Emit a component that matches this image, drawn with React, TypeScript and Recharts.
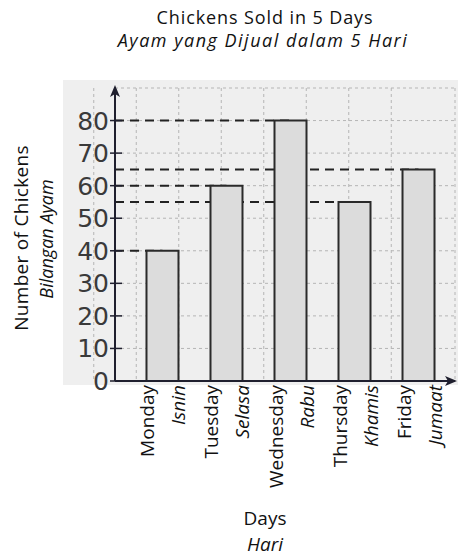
import React from 'react';
import { BarChart, Bar, XAxis, YAxis, CartesianGrid, ReferenceLine, ReferenceDot } from 'recharts';

const DAYS = ['Monday', 'Tuesday', 'Wednesday', 'Thursday', 'Friday'];
const HARI = ['Isnin', 'Selasa', 'Rabu', 'Khamis', 'Jumaat'];
const SOLD = [40, 60, 80, 55, 65];
const Y_TICKS = [0, 10, 20, 30, 40, 50, 60, 70, 80, 90];

const data = DAYS.map((day, i) => ({ idx: i, day, hari: HARI[i], sold: SOLD[i] }));

// numeric x axis so the dashed guides can start right at the y axis
const X_MIN = -0.742;
const X_MAX = 4.57;
const Y_MAX = 90;
// grid paper lines fall on the bar edges
const GRID_X = DAYS.flatMap((_, i) => [i - 0.25, i + 0.25]);

const INK = '#1f1f2e';
const FONT = '"Open Sans", "DejaVu Sans", sans-serif';

function DayTick({ x, y, payload }: any) {
  const i = payload.value;
  return (
    <g>
      <text
        x={x - 8}
        y={y + 4}
        transform={`rotate(-90 ${x - 8} ${y + 4})`}
        textAnchor="end"
        fontFamily={FONT}
        fontSize={19}
        fill="#111"
      >
        {DAYS[i]}
      </text>
      <text
        x={x + 23}
        y={y + 4}
        transform={`rotate(-90 ${x + 23} ${y + 4})`}
        textAnchor="end"
        fontFamily={FONT}
        fontStyle="italic"
        fontSize={19}
        fill="#111"
      >
        {HARI[i]}
      </text>
    </g>
  );
}

function CountTick({ x, y, payload }: any) {
  if (payload.value >= Y_MAX) return null;
  return (
    <g>
      <line x1={x - 5} x2={x + 7} y1={y} y2={y} stroke={INK} strokeWidth={1.5} />
      <text
        x={x - 6}
        y={y}
        dy={9}
        textAnchor="end"
        fontFamily='"DejaVu Sans", sans-serif'
        fontSize={25}
        fill="#3a3a3a"
      >
        {payload.value}
      </text>
    </g>
  );
}

const UpArrow = ({ cx, cy }: any) => (
  <path d={`M${cx},${cy - 3} l-5,12 l5,-3 l5,3 z`} fill={INK} />
);
const RightArrow = ({ cx, cy }: any) => (
  <path d={`M${cx + 2},${cy} l-12,-5 l3,5 l-3,5 z`} fill={INK} />
);

export default function App() {
  return (
    <div
      style={{
        position: 'absolute',
        left: 0,
        top: 0,
        width: 458,
        height: 557,
        background: '#fff',
        overflow: 'hidden'
      }}
    >
      {/* scanned paper tint */}
      <div
        style={{
          position: 'absolute',
          left: 63,
          top: 80,
          width: 395,
          height: 305,
          background: '#efefef'
        }}
      />

      <div style={{ position: 'absolute', left: 0, top: 0 }}>
        <BarChart
          width={458}
          height={557}
          data={data}
          margin={{ top: 88, right: 3, bottom: 0, left: 0 }}
        >
          <XAxis
            xAxisId="grid"
            type="number"
            domain={[X_MIN, X_MAX]}
            ticks={GRID_X}
            allowDataOverflow
            hide
          />
          <CartesianGrid
            xAxisId="grid"
            stroke="#b5b5b5"
            strokeDasharray="3 3"
          />
          <XAxis
            type="number"
            dataKey="idx"
            domain={[X_MIN, X_MAX]}
            ticks={[0, 1, 2, 3, 4]}
            interval={0}
            allowDataOverflow
            height={176}
            axisLine={{ stroke: INK, strokeWidth: 2 }}
            tickLine={false}
            tickSize={0}
            tickMargin={0}
            tick={<DayTick />}
          />
          <YAxis
            type="number"
            domain={[0, Y_MAX]}
            ticks={Y_TICKS}
            interval={0}
            allowDataOverflow
            width={115}
            axisLine={{ stroke: INK, strokeWidth: 2 }}
            tickLine={false}
            tickSize={0}
            tickMargin={0}
            tick={<CountTick />}
          />
          {data.map((d) => (
            <ReferenceLine
              key={d.day}
              segment={[
                { x: X_MIN, y: d.sold },
                { x: d.idx, y: d.sold }
              ]}
              stroke="#222"
              strokeWidth={2}
              strokeDasharray="9 6"
              ifOverflow="visible"
              zIndex={250}
            />
          ))}
          <Bar
            dataKey="sold"
            barSize={32}
            fill="#dcdcdc"
            stroke="#2a2a2a"
            strokeWidth={2}
            isAnimationActive={false}
          />
          <ReferenceDot x={X_MIN} y={Y_MAX} ifOverflow="visible" shape={<UpArrow />} />
          <ReferenceDot x={X_MAX} y={0} ifOverflow="visible" shape={<RightArrow />} />
        </BarChart>
      </div>

      <svg
        width={458}
        height={557}
        style={{ position: 'absolute', left: 0, top: 0, pointerEvents: 'none' }}
        fontFamily={FONT}
        fill="#111"
      >
        <text x={265} y={24} textAnchor="middle" fontSize={18} letterSpacing={0.9}>
          Chickens Sold in 5 Days
        </text>
        <text
          x={263}
          y={47}
          textAnchor="middle"
          fontSize={18}
          fontStyle="italic"
          letterSpacing={1.5}
        >
          Ayam yang Dijual dalam 5 Hari
        </text>
        <text
          x={28}
          y={238}
          transform="rotate(-90 28 238)"
          textAnchor="middle"
          fontSize={19}
          letterSpacing={0.3}
        >
          Number of Chickens
        </text>
        <text
          x={53}
          y={239}
          transform="rotate(-90 53 239)"
          textAnchor="middle"
          fontSize={18}
          fontStyle="italic"
        >
          Bilangan Ayam
        </text>
        <text x={265} y={525} textAnchor="middle" fontSize={19}>
          Days
        </text>
        <text x={265} y={551} textAnchor="middle" fontSize={19} fontStyle="italic">
          Hari
        </text>
      </svg>
    </div>
  );
}
